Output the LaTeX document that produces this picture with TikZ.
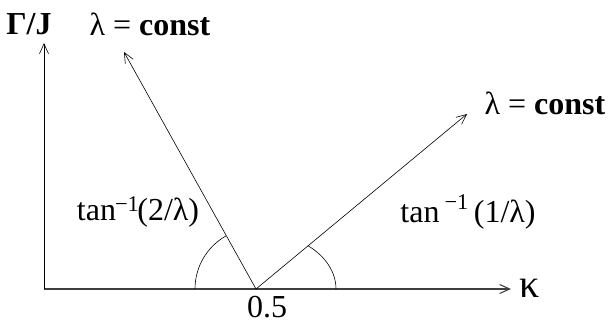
\documentclass[tikz,border=0pt]{standalone}
\usepackage{fontspec}
\setmainfont{Liberation Serif}
\usetikzlibrary{arrows.meta}

\begin{document}
\begin{tikzpicture}[x=1pt,y=1pt,
    axis/.style={line width=1.1pt, black!75, -{Straight Barb[length=10pt,width=9pt]}},
    ray/.style={line width=0.6pt, black, -{Straight Barb[length=10pt,width=9pt]}},
    lbl/.style={inner sep=0pt, font=\fontsize{32}{36}\selectfont}]
    \useasboundingbox (0,0) rectangle (611,326);
    % axes and rays
    \coordinate (O) at (44,37);
    \coordinate (P) at (256,37);
    \coordinate (ytip) at (44,283);
    \coordinate (xtip) at (511,37);
    \coordinate (ltip) at (124,274);
    \coordinate (rtip) at (467,212);
    \draw[axis] (O) -- (xtip);
    \draw[ray] (O) -- (ytip);
    \draw[ray] (P) -- (ltip);
    \draw[ray] (P) -- (rtip);
    % angle arcs
    \draw[line width=0.6pt] (P) ++(180:61) arc[start angle=180, end angle=119.5, radius=61];
    \draw[line width=0.6pt] (P) ++(80,0) arc[start angle=0, end angle=49.5, x radius=80, y radius=57];
    % labels
    \node[lbl] (gJ) at (29,302) {\textbf{Γ/J}};
    \node[lbl] (lamtop) at (150,302) {λ = \textbf{const}};
    \node[lbl] (lamright) at (545,223) {λ = \textbf{const}};
    \node[lbl] (angl) at (138,114) {tan\kern-1pt\textsuperscript{−1}\kern-2pt(2/λ)};
    \node[lbl] (angr) at (468,114) {tan\kern5pt\raisebox{4pt}{\textsuperscript{−1}}\kern5pt(1/λ)};
    \node[lbl, anchor=base] (half) at (267,8) {0.5};
    \node[lbl, font=\fontsize{40}{44}\selectfont] (kap) at (530,38) {κ};
\end{tikzpicture}
\end{document}
